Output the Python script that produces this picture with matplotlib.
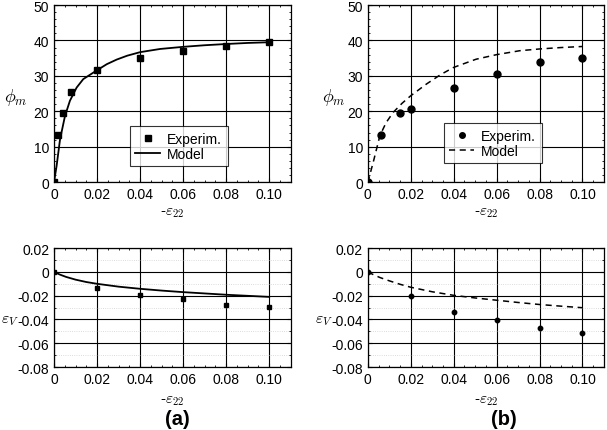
import numpy as np
import matplotlib
matplotlib.use('Agg')
import matplotlib.pyplot as plt
from matplotlib.ticker import MultipleLocator

plt.rcParams['font.family'] = ['Liberation Sans', 'DejaVu Sans']
plt.rcParams['mathtext.fontset'] = 'cm'

# panel (a), friction angle
exp_a_x = [0.0, 0.002, 0.004, 0.008, 0.02, 0.04, 0.06, 0.08, 0.10]
exp_a_phi = [0.0, 13.2, 19.5, 25.4, 31.7, 35.1, 37.1, 38.3, 39.7]
mod_a_x = [0.0, 0.0012, 0.0028, 0.0051, 0.0074, 0.0105, 0.0136, 0.02, 0.0245, 0.0291, 0.034, 0.04,
           0.0493, 0.06, 0.07, 0.08, 0.09, 0.10]
mod_a_phi = [0.0, 4.6, 12.1, 18.7, 23.0, 26.7, 29.1, 31.6, 33.3, 34.6, 35.7, 36.7,
             37.6, 38.2, 38.65, 39.0, 39.3, 39.5]

# panel (b), friction angle
exp_b_x = [0.0, 0.006, 0.0148, 0.02, 0.04, 0.06, 0.08, 0.10]
exp_b_phi = [0.0, 13.2, 19.4, 20.6, 26.5, 30.5, 34.0, 35.1]
mod_b_x = [0.0, 0.0025, 0.0056, 0.0085, 0.0118, 0.016, 0.02, 0.0273, 0.034, 0.04, 0.0504, 0.06,
           0.0707, 0.08, 0.09, 0.10]
mod_b_phi = [0.0, 5.6, 13.1, 16.8, 19.7, 22.3, 24.4, 27.7, 30.4, 32.4, 34.7, 36.0,
             37.1, 37.6, 38.0, 38.3]

# volumetric strain
exp_a_ev_x = [0.0, 0.02, 0.04, 0.06, 0.08, 0.10]
exp_a_ev = [0.0, -0.0139, -0.0197, -0.0228, -0.0278, -0.0297]
mod_a_ev_x = [0.0, 0.0028, 0.0056, 0.01, 0.015, 0.02, 0.03, 0.04, 0.05, 0.06, 0.07, 0.08, 0.09, 0.10]
mod_a_ev = [0.0, -0.0023, -0.0042, -0.0065, -0.0085, -0.0100, -0.0124, -0.0142, -0.0157, -0.0170,
            -0.0181, -0.0192, -0.0201, -0.0210]

exp_b_ev_x = [0.0, 0.02, 0.04, 0.06, 0.08, 0.10]
exp_b_ev = [0.0, -0.0203, -0.0337, -0.0405, -0.0474, -0.0515]
mod_b_ev_x = [0.0, 0.0028, 0.0056, 0.01, 0.015, 0.02, 0.03, 0.04, 0.05, 0.06, 0.07, 0.08, 0.09, 0.10]
mod_b_ev = [0.0, -0.0025, -0.0047, -0.0075, -0.0104, -0.0129, -0.0167, -0.0197, -0.0219, -0.0238,
            -0.0257, -0.0274, -0.0288, -0.0301]

xticks = [0, 0.02, 0.04, 0.06, 0.08, 0.10]
xticklabels = ['0', '0.02', '0.04', '0.06', '0.08', '0.10']

fig = plt.figure(figsize=(6.07, 4.31), dpi=100)
ax1 = fig.add_axes([0.089, 0.575, 0.390, 0.411])
ax2 = fig.add_axes([0.606, 0.575, 0.389, 0.411])
ax3 = fig.add_axes([0.089, 0.146, 0.390, 0.276])
ax4 = fig.add_axes([0.606, 0.146, 0.389, 0.276])


def style(ax, top, ylab_x):
    ax.set_xlim(0, 0.11)
    ax.set_xticks(xticks)
    ax.set_xticklabels(xticklabels, fontsize=10)
    ax.xaxis.set_minor_locator(MultipleLocator(0.005))
    if top:
        ax.set_ylim(0, 50)
        ax.set_yticks([0, 10, 20, 30, 40, 50])
        ax.yaxis.set_minor_locator(MultipleLocator(2))
        ax.set_ylabel(r'$\phi_m$', fontsize=13, rotation=0, ha='center', va='center')
        ax.yaxis.set_label_coords(ylab_x, 0.486)
        ax.set_xlabel(r'-$\varepsilon_{22}$', fontsize=11, labelpad=3)
    else:
        ax.set_ylim(-0.08, 0.02)
        ax.set_yticks([-0.08, -0.06, -0.04, -0.02, 0, 0.02])
        ax.set_yticklabels(['-0.08', '-0.06', '-0.04', '-0.02', '0', '0.02'])
        ax.yaxis.set_minor_locator(MultipleLocator(0.01))
        ax.grid(True, which='minor', axis='y', color='#d0d0d0', linestyle=':', linewidth=0.6)
        ax.set_ylabel(r'$\varepsilon_V$', fontsize=11.5, rotation=0, ha='left', va='center')
        ax.yaxis.set_label_coords(ylab_x, 0.40)
        ax.set_xlabel(r'-$\varepsilon_{22}$', fontsize=11, labelpad=5)
    ax.grid(True, which='major', color='black', linewidth=0.8)
    ax.tick_params(axis='both', which='both', direction='in', top=True, right=True, labelsize=10)
    ax.tick_params(which='major', length=3)
    ax.tick_params(which='minor', length=1.5, width=0.6)
    for s in ax.spines.values():
        s.set_linewidth(0.9)
    ax.set_axisbelow(True)


ax1.plot(exp_a_x, exp_a_phi, 's', color='black', markersize=5, label='Experim.')
ax1.plot(mod_a_x, mod_a_phi, '-', color='black', linewidth=1.3, label='Model')
style(ax1, True, -0.162)
leg = ax1.legend(loc='lower left', bbox_to_anchor=(0.32, 0.09), frameon=True, fancybox=False,
                 edgecolor='black', fontsize=10, handlelength=1.8, borderpad=0.4, labelspacing=0.05,
                 borderaxespad=0, handletextpad=0.5)
leg.get_frame().set_linewidth(0.8)

ax2.plot(exp_b_x, exp_b_phi, 'o', color='black', markersize=5, label='Experim.')
ax2.plot(mod_b_x, mod_b_phi, '--', color='black', linewidth=1.1, dashes=(4, 3), label='Model')
style(ax2, True, -0.144)
leg = ax2.legend(loc='lower left', bbox_to_anchor=(0.322, 0.107), frameon=True, fancybox=False,
                 edgecolor='black', fontsize=10, handlelength=1.8, borderpad=0.4, labelspacing=0.05,
                 borderaxespad=0, handletextpad=0.5, markerscale=0.8)
leg.get_frame().set_linewidth(0.8)

ax3.plot(exp_a_ev_x, exp_a_ev, 's', color='black', markersize=3.2)
ax3.plot(mod_a_ev_x, mod_a_ev, '-', color='black', linewidth=1.3)
style(ax3, False, -0.222)

ax4.plot(exp_b_ev_x, exp_b_ev, 'o', color='black', markersize=3.2)
ax4.plot(mod_b_ev_x, mod_b_ev, '--', color='black', linewidth=1.1, dashes=(4, 3))
style(ax4, False, -0.225)

fig.text(0.293, 0.026, '(a)', fontsize=14.5, fontweight='bold', ha='center', va='center')
fig.text(0.830, 0.026, '(b)', fontsize=14.5, fontweight='bold', ha='center', va='center')

fig.savefig('out.png', dpi=100)
